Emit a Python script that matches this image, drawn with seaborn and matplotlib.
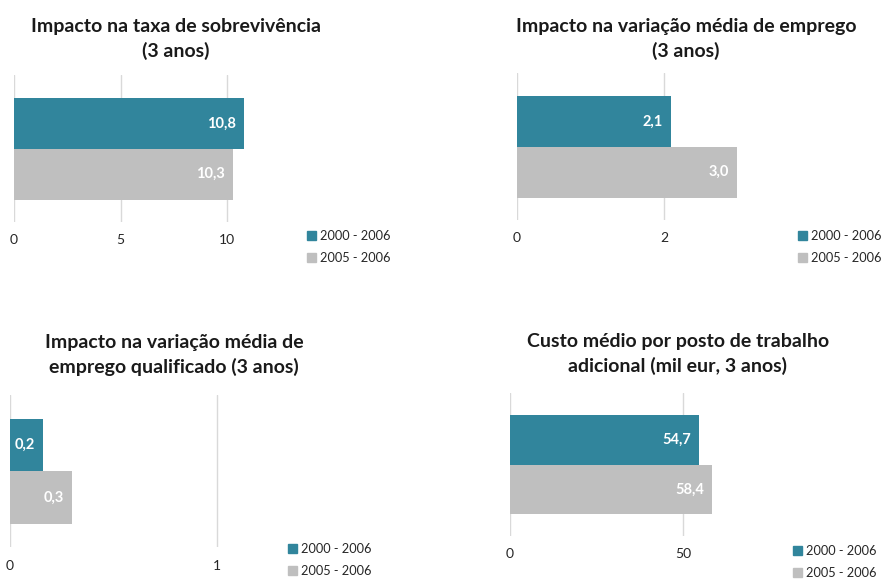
import pandas as pd
import numpy as np
import matplotlib
matplotlib.use("Agg")
import matplotlib.pyplot as plt
import seaborn as sns
from matplotlib.patches import Patch

sns.set_theme(style="white")
plt.rcParams['font.family'] = ['Lato', 'DejaVu Sans']

# dados
periodos = ['2000 - 2006', '2005 - 2006']
titulos = ['Impacto na taxa de sobrevivência\n(3 anos)',
           'Impacto na variação média de emprego\n(3 anos)',
           'Impacto na variação média de\nemprego qualificado (3 anos)',
           'Custo médio por posto de trabalho\nadicional (mil eur, 3 anos)']
sobrevivencia = [10.8, 10.3]
emprego = [2.1, 3.0]
emprego_qualif = [0.16, 0.30]
custo = [54.7, 58.4]
valores = [sobrevivencia, emprego, emprego_qualif, custo]
ticks = [[0, 5, 10], [0, 2], [0, 1], [0, 50]]

cores = {'2000 - 2006': '#31859C', '2005 - 2006': '#BFBFBF'}

W, H = 882, 579
fig = plt.figure(figsize=(W / 100, H / 100), dpi=100)

# layout em pixeis: (x0, px por unidade, xmax, y topo grelha, y base grelha, titulo x, titulo y, legenda x, legenda y)
layout = [
    (14, 21.3, 12.0, 75, 222, 176, 39, 307, 247),
    (517, 73.5, 3.3, 73, 220, 686, 39, 798, 247),
    (10, 207.0, 1.06, 395, 547, 174, 355, 288, 560),
    (510, 3.46, 64.0, 393, 536, 678, 354, 793, 562),
]

for vals, tit, tk, (x0, ppu, xmax, yt, yb, tx, ty, lx, ly) in zip(valores, titulos, ticks, layout):
    ax = fig.add_axes([x0 / W, 1 - yb / H, ppu * xmax / W, (yb - yt) / H])
    df = pd.DataFrame({'cat': ['a', 'a'], 'periodo': periodos, 'valor': vals})
    sns.barplot(data=df, y='cat', x='valor', hue='periodo', palette=cores,
                orient='h', width=0.8, dodge=True, ax=ax, legend=False,
                saturation=1, linewidth=0)
    for cont, v in zip(ax.containers, vals):
        labs = ax.bar_label(cont, labels=[f'{v:.1f}'.replace('.', ',')], padding=-6,
                            color='white', fontweight='bold', fontsize=10.5)
        for t in labs:
            t.set_ha('right')
    ax.set_xlim(0, xmax)
    ax.set_ylim(0.575, -0.58)
    ax.set_xticks(tk)
    ax.set_yticks([])
    ax.set_xlabel('')
    ax.set_ylabel('')
    ax.grid(axis='x', color='#D9D9D9', linewidth=1)
    ax.set_axisbelow(True)
    for s in ax.spines.values():
        s.set_visible(False)
    ax.tick_params(axis='x', length=0, pad=9, labelsize=10, labelcolor='#262626')
    fig.text(tx / W, 1 - ty / H, tit, ha='center', va='center', fontsize=14,
             fontweight='bold', color='#1a1a1a', linespacing=1.4)
    handles = [Patch(color=cores[p], label=p) for p in periodos]
    fig.legend(handles=handles, loc='center left', bbox_to_anchor=(lx / W, 1 - ly / H),
               frameon=False, fontsize=9.2, handlelength=0.7, handleheight=0.7,
               handletextpad=0.3, labelspacing=0.8, borderaxespad=0, borderpad=0)

plt.savefig('out.png', dpi=100, facecolor='white')
plt.close()
